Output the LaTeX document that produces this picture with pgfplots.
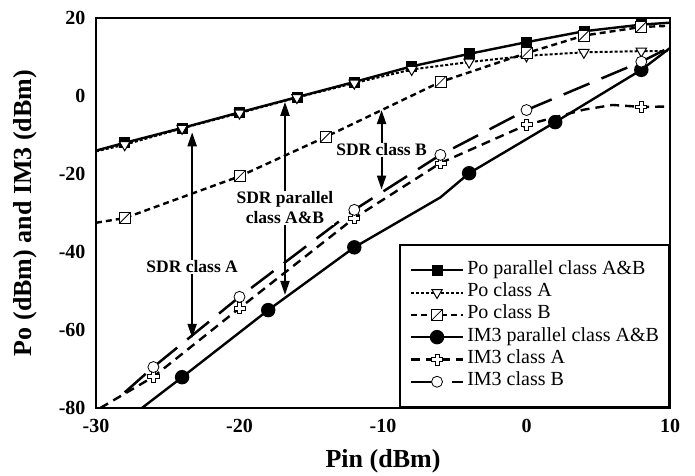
\documentclass[border=0pt]{standalone}
\usepackage{fontspec}
\setmainfont{Liberation Serif}
\usepackage{pgfplots}
\pgfplotsset{compat=1.18}
\usetikzlibrary{arrows.meta}

% square with a diagonal
\pgfdeclareplotmark{sqdiag}{%
  \pgfpathrectangle{\pgfpoint{-\pgfplotmarksize}{-\pgfplotmarksize}}{\pgfpoint{2\pgfplotmarksize}{2\pgfplotmarksize}}%
  \pgfusepathqfillstroke
  \pgfpathmoveto{\pgfpoint{-\pgfplotmarksize}{-\pgfplotmarksize}}%
  \pgfpathlineto{\pgfpoint{\pgfplotmarksize}{\pgfplotmarksize}}%
  \pgfusepathqstroke}
% outlined plus
\pgfdeclareplotmark{oplus}{%
  \pgfpathmoveto{\pgfpoint{0.36\pgfplotmarksize}{\pgfplotmarksize}}%
  \pgfpathlineto{\pgfpoint{0.36\pgfplotmarksize}{0.36\pgfplotmarksize}}%
  \pgfpathlineto{\pgfpoint{\pgfplotmarksize}{0.36\pgfplotmarksize}}%
  \pgfpathlineto{\pgfpoint{\pgfplotmarksize}{-0.36\pgfplotmarksize}}%
  \pgfpathlineto{\pgfpoint{0.36\pgfplotmarksize}{-0.36\pgfplotmarksize}}%
  \pgfpathlineto{\pgfpoint{0.36\pgfplotmarksize}{-\pgfplotmarksize}}%
  \pgfpathlineto{\pgfpoint{-0.36\pgfplotmarksize}{-\pgfplotmarksize}}%
  \pgfpathlineto{\pgfpoint{-0.36\pgfplotmarksize}{-0.36\pgfplotmarksize}}%
  \pgfpathlineto{\pgfpoint{-\pgfplotmarksize}{-0.36\pgfplotmarksize}}%
  \pgfpathlineto{\pgfpoint{-\pgfplotmarksize}{0.36\pgfplotmarksize}}%
  \pgfpathlineto{\pgfpoint{-0.36\pgfplotmarksize}{0.36\pgfplotmarksize}}%
  \pgfpathlineto{\pgfpoint{-0.36\pgfplotmarksize}{\pgfplotmarksize}}%
  \pgfpathclose
  \pgfusepathqfillstroke}
% open circle with a dot
\pgfdeclareplotmark{dotcirc}{%
  \pgfpathcircle{\pgfpointorigin}{\pgfplotmarksize}%
  \pgfusepathqfillstroke
  \pgfpathcircle{\pgfpointorigin}{0.5pt}%
  \pgfusepathqfill}

\newcommand{\TickFont}{\bfseries\fontsize{20}{24}\selectfont}
\newcommand{\LabFont}{\bfseries\fontsize{26}{30}\selectfont}
\newcommand{\NoteFont}{\bfseries\fontsize{17.5}{20}\selectfont}

\tikzset{
  sdr/.style={{Triangle[length=14pt,width=9pt]}-{Triangle[length=14pt,width=9pt]}, line width=2pt, black},
  note/.style={font=\NoteFont, fill=white, inner sep=1pt, align=center}
}

\begin{document}
\begin{tikzpicture}
\begin{axis}[
    scale only axis,
    width=574pt, height=390pt,
    xmin=-30, xmax=10, ymin=-80, ymax=20,
    xtick={-30,-20,...,10},
    ytick={-80,-60,...,20},
    /pgf/number format/assume math mode=true,
    ticklabel style={font=\TickFont},
    xticklabel style={yshift=-8pt},
    yticklabel style={xshift=-7pt},
    tick style={draw=none},
    axis line style={line width=2.8pt},
    xlabel={Pin (dBm)},
    ylabel={Po (dBm) and IM3 (dBm)},
    xlabel style={font=\LabFont, at={(axis description cs:0.5,0)}, anchor=base, yshift=-59pt},
    ylabel style={font=\LabFont, at={(axis description cs:-0.124,0.5)}, rotate=0, anchor=center},
    legend cell align=left,
    legend style={at={(rel axis cs:1,0)}, anchor=south east,
      font=\fontsize{20}{22}\selectfont, draw=black, line width=2.2pt,
      inner xsep=10pt, inner ysep=14pt, column sep=3pt,
      nodes={inner sep=0pt, text height=15pt, text depth=7.3pt}},
    legend image code/.code={%
      \draw[mark indices={2}] plot coordinates {(0pt,0pt) (26pt,0pt) (52pt,0pt)};},
    every axis plot/.append style={line width=2.4pt},
    clip mode=individual
]
% Po parallel class A&B
\addplot[black, mark=square*, mark size=5pt, mark indices={2,3,4,5,6,7,8,9,10,11},
  mark options={solid, line width=0.8pt}] coordinates {
  (-30,-14) (-28,-12) (-24,-8.2) (-20,-4.2) (-16,-0.3) (-12,3.6)
  (-8,7.6) (-4,10.8) (0,13.8) (4,16.6) (8,18.3) (10,18.8)};
\addlegendentry{Po parallel class A\&B}
% Po class A
\addplot[black, line width=2pt, dash pattern=on 3pt off 2pt, mark=triangle*, mark size=6pt,
  mark indices={2,3,4,5,6,7,8,9,10,11},
  mark options={solid, rotate=180, fill=white, line width=1pt}] coordinates {
  (-30,-14.2) (-28,-12.5) (-24,-8.3) (-20,-4.4) (-16,-0.4) (-12,3.3)
  (-8,6.8) (-4,8.7) (0,10.3) (4,11.2) (8,11.5) (10,11.5)};
\addlegendentry{Po class A}
% Po class B
\addplot[black, dash pattern=on 6pt off 4pt, mark=sqdiag, mark size=5.5pt,
  mark indices={2,3,4,5,6,7,8},
  mark options={solid, fill=white, line width=0.8pt}] coordinates {
  (-30,-32.5) (-28,-31.3) (-20,-20.6) (-14,-10.5) (-6,3.6)
  (0,11) (4,15.5) (8,17.7) (10,18)};
\addlegendentry{Po class B}
% IM3 parallel class A&B
\addplot[black, mark=*, mark size=6pt, mark indices={2,3,4,6,7,8},
  mark options={solid}] coordinates {
  (-26.8,-80) (-24,-72.1) (-18,-54.9) (-12,-38.8) (-6,-26) (-4,-19.8)
  (2,-6.7) (8,6.7) (10,12.3)};
\addlegendentry{IM3 parallel class A\&B}
% IM3 class A
\addplot[black, dash pattern=on 9pt off 6pt, mark=oplus, mark size=5.5pt,
  mark indices={2,3,4,5,6,9},
  mark options={solid, fill=white, line width=0.8pt}] coordinates {
  (-29.7,-80) (-26,-72) (-20,-54.4) (-12,-31.3) (-6,-17.2) (0,-7.4)
  (4,-3.5) (6,-2.3) (8,-2.8) (10,-2.7)};
\addlegendentry{IM3 class A}
% IM3 class B
\addplot[black, line width=2.5pt, dash pattern=on 28pt off 13pt, mark=dotcirc, mark size=5.5pt,
  mark indices={2,3,4,5,6,7},
  mark options={solid, fill=white, line width=0.8pt}] coordinates {
  (-28,-76) (-26,-69.5) (-20,-51.5) (-12,-29.2) (-6,-15.1) (0,-3.6)
  (8,8.8) (10,12.5)};
\addlegendentry{IM3 class B}

% SDR annotations
\draw[sdr] (axis cs:-23.3,-9.3) -- (axis cs:-23.3,-62);
\node[note] at (axis cs:-23.3,-43.8) {SDR class A};
\draw[sdr] (axis cs:-16.83,-1.5) -- (axis cs:-16.83,-51);
\node[note] at (axis cs:-16.83,-28.7) {SDR parallel\\class A\&B};
\draw[sdr] (axis cs:-10.1,-3.6) -- (axis cs:-10.1,-24);
\node[note] at (axis cs:-10.1,-13.8) {SDR class B};
\end{axis}
\path ([shift={(-96pt,-66pt)}]current axis.south west) rectangle ([shift={(25pt,18pt)}]current axis.north east);
\end{tikzpicture}
\end{document}
